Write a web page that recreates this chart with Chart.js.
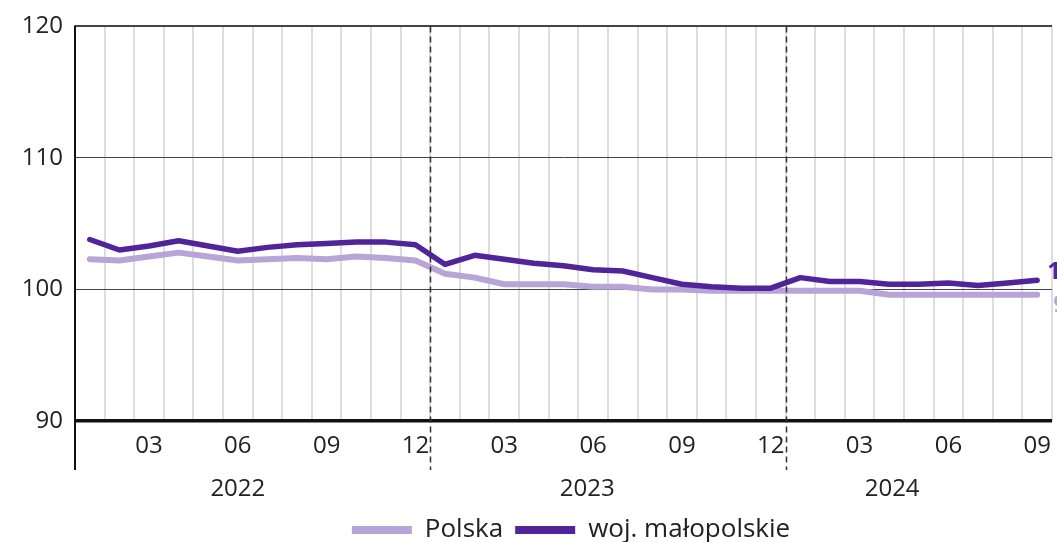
<!DOCTYPE html>
<html>
<head>
<meta charset="utf-8">
<script src="https://cdn.jsdelivr.net/npm/chart.js@4.4.1/dist/chart.umd.min.js"></script>
<style>
  html, body { margin: 0; padding: 0; background: #ffffff; }
  #wrap { width: 1057px; height: 542px; position: relative; }
</style>
</head>
<body>
<div id="wrap"><canvas id="c"></canvas></div>
<script>
// ---- data ----
const months = ['01','02','03','04','05','06','07','08','09','10','11','12',
                '01','02','03','04','05','06','07','08','09','10','11','12',
                '01','02','03','04','05','06','07','08','09'];
const years = ['2022', '2023', '2024'];
const yearAnchors = [5, 16.8, 27.1];           // month index where each year label sits
const yearBreaks = [11.5, 23.5];                 // between 12 and 01
const yTicks = [90, 100, 110, 120];

const seriesNames = ['Polska', 'woj. małopolskie'];
const polska = [102.3,102.2,102.5,102.8,102.5,102.2,102.3,102.4,102.3,102.5,102.4,102.2,
                101.2,100.9,100.4,100.4,100.4,100.2,100.2,100.0,100.0,99.9,99.9,99.9,
                99.9,99.9,99.9,99.6,99.6,99.6,99.6,99.6,99.6];
const malopolskie = [103.8,103.0,103.3,103.7,103.3,102.9,103.2,103.4,103.5,103.6,103.6,103.4,
                     101.9,102.6,102.3,102.0,101.8,101.5,101.4,100.9,100.4,100.2,100.1,100.1,
                     100.9,100.6,100.6,100.4,100.4,100.5,100.3,100.5,100.7];
const endLabels = ['99,6', '100,7'];

const LIGHT = '#b8a4d6';
const DARK = '#52249a';
const FONT = "'Open Sans', 'Noto Sans', sans-serif";
const TXT = '#222222';

const legendShift = {
  id: 'legendShift',
  afterLayout(chart) {
    const lg = chart.legend;
    if (!lg) return;
    lg.left += 45; lg.right += 45;
    lg.top += 11; lg.bottom += 11;
  }
};

const extras = {
  id: 'extras',
  afterDatasetsDraw(chart) {
    const ctx = chart.ctx;
    const x = chart.scales.x;
    const area = chart.chartArea;
    const bottomExt = 470;
    ctx.save();
    // dashed year separators
    ctx.strokeStyle = '#333333';
    ctx.lineWidth = 1.5;
    ctx.setLineDash([6, 4]);
    yearBreaks.forEach(v => {
      const px = Math.round(x.getPixelForValue(v)) + 0.5;
      ctx.beginPath();
      ctx.moveTo(px, area.top);
      ctx.lineTo(px, bottomExt);
      ctx.stroke();
    });
    ctx.setLineDash([]);
    // left axis line
    ctx.strokeStyle = '#111111';
    ctx.lineWidth = 2;
    ctx.beginPath();
    ctx.moveTo(area.left, area.top - 1);
    ctx.lineTo(area.left, bottomExt);
    ctx.stroke();
    // year labels
    ctx.fillStyle = TXT;
    ctx.font = '24px ' + FONT;
    ctx.textAlign = 'center';
    ctx.textBaseline = 'middle';
    years.forEach((y, i) => {
      ctx.fillText(y, x.getPixelForValue(yearAnchors[i]), 489);
    });
    // end-of-line value labels
    ctx.font = 'bold 24px ' + FONT;
    ctx.textAlign = 'left';
    const offs = [[16, 10], [10, -8]];
    chart.data.datasets.forEach((ds, i) => {
      const meta = chart.getDatasetMeta(i);
      const pt = meta.data[meta.data.length - 1];
      ctx.fillStyle = ds.borderColor;
      ctx.fillText(endLabels[i], pt.x + offs[i][0], pt.y + offs[i][1]);
    });
    ctx.restore();
  }
};

new Chart(document.getElementById('c'), {
  type: 'line',
  data: {
    labels: months,
    datasets: [
      { label: seriesNames[0], data: polska, borderColor: LIGHT, backgroundColor: LIGHT,
        borderWidth: 6, pointRadius: 0, tension: 0, order: 1,
        borderCapStyle: 'round', borderJoinStyle: 'round' },
      { label: seriesNames[1], data: malopolskie, borderColor: DARK, backgroundColor: DARK,
        borderWidth: 5.5, pointRadius: 0, tension: 0, order: 0,
        borderCapStyle: 'round', borderJoinStyle: 'round' }
    ]
  },
  options: {
    responsive: true,
    maintainAspectRatio: false,
    animation: false,
    layout: { padding: { top: 25, right: 5, left: 0, bottom: 0 } },
    plugins: {
      tooltip: { enabled: false },
      legend: {
        position: 'bottom',
        labels: {
          color: TXT,
          font: { family: FONT, size: 26 },
          boxWidth: 60,
          boxHeight: 8,
          useBorderRadius: true,
          borderRadius: 4,
          padding: 12,
          sort: (a, b) => a.datasetIndex - b.datasetIndex,
          generateLabels(chart) {
            return chart.data.datasets.map((ds, i) => ({
              text: ds.label, fillStyle: ds.borderColor, strokeStyle: ds.borderColor,
              lineWidth: 0, datasetIndex: i, hidden: false, fontColor: TXT
            }));
          }
        }
      }
    },
    scales: {
      x: {
        type: 'category',
        offset: true,
        afterFit(scale) { scale.height = 73; scale.paddingRight = 0; scale.paddingLeft = 0; },
        grid: { offset: true, color: '#dddddd', lineWidth: 2, drawTicks: false },
        border: { display: false },
        ticks: {
          autoSkip: false, maxRotation: 0, padding: 11, color: TXT,
          font: { family: FONT, size: 24 },
          callback(v, i) { return (i % 3 === 2) ? months[i] : ''; }
        }
      },
      y: {
        min: 90, max: 120,
        afterFit(scale) { scale.width = 75; },
        afterBuildTicks(scale) { scale.ticks = yTicks.map(v => ({ value: v })); },
        grid: {
          drawTicks: false,
          color: c => c.tick.value === 90 ? '#111111' : '#444444',
          lineWidth: c => c.tick.value === 90 ? 3.5 : (c.tick.value === 120 ? 2 : 1)
        },
        border: { display: false },
        ticks: { padding: 12, color: TXT, font: { family: FONT, size: 24 } }
      }
    }
  },
  plugins: [legendShift, extras]
});
</script>
</body>
</html>
